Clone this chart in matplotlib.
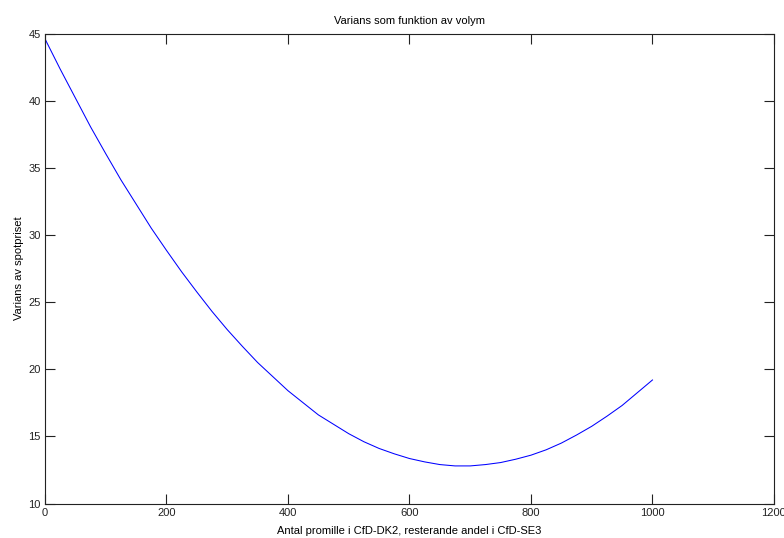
import matplotlib
matplotlib.use('Agg')
import matplotlib.pyplot as plt

# andel i CfD-DK2 (promille) och avläst varians
promille = [0, 25, 50, 75, 100, 125, 150, 175, 200, 225, 250, 275, 300, 325,
            350, 375, 400, 425, 450, 475, 500, 525, 550, 575, 600, 625, 650,
            675, 700, 725, 750, 775, 800, 825, 850, 875, 900, 925, 950, 975, 1000]
varians = [44.6, 42.35, 40.2, 38.05, 36.05, 34.1, 32.3, 30.5, 28.85, 27.25,
           25.75, 24.3, 22.95, 21.7, 20.5, 19.45, 18.4, 17.5, 16.6, 15.9,
           15.2, 14.6, 14.1, 13.7, 13.35, 13.1, 12.9, 12.8, 12.8, 12.9,
           13.05, 13.3, 13.6, 14.0, 14.5, 15.1, 15.75, 16.5, 17.3, 18.25, 19.2]

xticks = [0, 200, 400, 600, 800, 1000, 1200]
yticks = [10, 15, 20, 25, 30, 35, 40, 45]

plt.rcParams['font.family'] = ['Liberation Sans', 'DejaVu Sans']
plt.rcParams['font.size'] = 8

fig = plt.figure(figsize=(7.84, 5.38), dpi=100)
ax = fig.add_axes([0.0574, 0.0641, 0.9298, 0.8736])

ax.plot(promille, varians, color='#0000ff', linewidth=0.75)

ax.set_xlim(0, 1200)
ax.set_ylim(10, 45)
ax.set_xticks(xticks)
ax.set_yticks(yticks)
ax.tick_params(direction='in', length=7, width=0.8, top=True, right=True,
               labelsize=8, pad=3, colors='#222222', labelcolor='#222222')
for s in ax.spines.values():
    s.set_linewidth(0.8)
    s.set_color('#222222')

ax.set_title('Varians som funktion av volym', fontsize=8, pad=7)
ax.set_xlabel('Antal promille i CfD-DK2, resterande andel i CfD-SE3', fontsize=8, labelpad=6)
ax.set_ylabel('Varians av spotpriset', fontsize=8, labelpad=3)

fig.savefig('out.png', dpi=100)
